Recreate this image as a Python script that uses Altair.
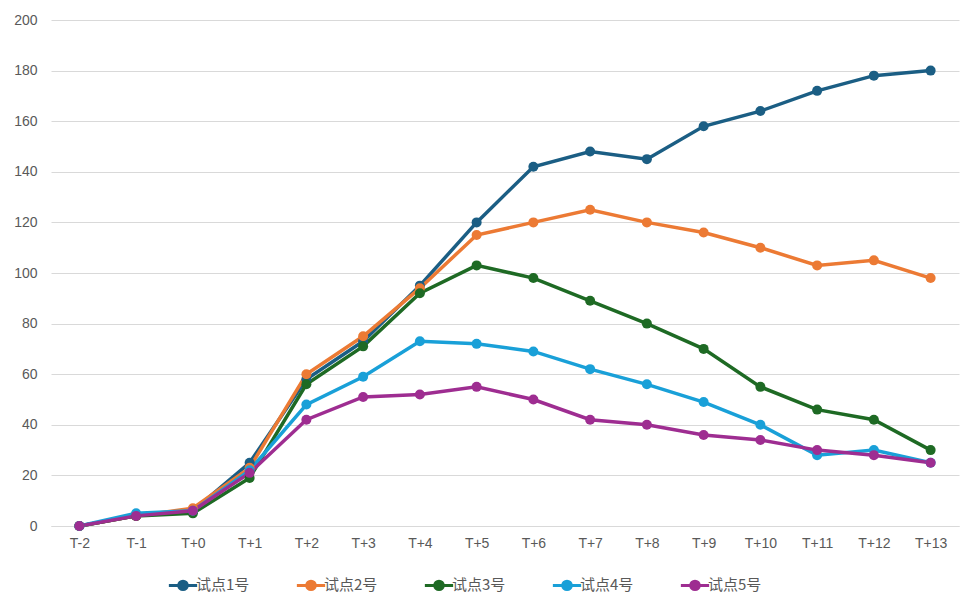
import altair as alt
import pandas as pd

periods = ["T-2", "T-1", "T+0", "T+1", "T+2", "T+3", "T+4", "T+5",
           "T+6", "T+7", "T+8", "T+9", "T+10", "T+11", "T+12", "T+13"]
names = ["试点1号", "试点2号", "试点3号", "试点4号", "试点5号"]
colors = ["#1b5e84", "#ec7a34", "#1e6a24", "#19a0d8", "#9e2d91"]

s1 = [0, 4, 6, 25, 58, 73, 95, 120, 142, 148, 145, 158, 164, 172, 178, 180]
s2 = [0, 4, 7, 23, 60, 75, 94, 115, 120, 125, 120, 116, 110, 103, 105, 98]
s3 = [0, 4, 5, 19, 56, 71, 92, 103, 98, 89, 80, 70, 55, 46, 42, 30]
s4 = [0, 5, 6, 22, 48, 59, 73, 72, 69, 62, 56, 49, 40, 28, 30, 25]
s5 = [0, 4, 6, 21, 42, 51, 52, 55, 50, 42, 40, 36, 34, 30, 28, 25]

rows = []
for name, vals in zip(names, [s1, s2, s3, s4, s5]):
    for p, v in zip(periods, vals):
        rows.append({"period": p, "value": v, "series": name})
df = pd.DataFrame(rows)

legend_symbol = "M-2,0H2M-0.6,0a0.6,0.6 0 1,0 1.2,0a0.6,0.6 0 1,0 -1.2,0Z"

chart = (
    alt.Chart(df)
    .mark_line(strokeWidth=3.5, point=alt.OverlayMarkDef(size=100, filled=True, opacity=1))
    .encode(
        x=alt.X("period:N", sort=periods, title=None,
                axis=alt.Axis(labelAngle=0, labelPadding=10, ticks=False,
                              domainColor="#d9d9d9", grid=False)),
        y=alt.Y("value:Q", title=None, scale=alt.Scale(domain=[0, 200]),
                axis=alt.Axis(values=list(range(0, 201, 20)), domain=False, ticks=False,
                              gridColor="#d9d9d9", labelPadding=14)),
        color=alt.Color("series:N", sort=names,
                        scale=alt.Scale(domain=names, range=colors),
                        legend=alt.Legend(title=None, orient="none", direction="horizontal",
                                          legendX=123, legendY=556,
                                          symbolType=legend_symbol, symbolSize=200,
                                          symbolStrokeWidth=3, symbolOpacity=1,
                                          labelFontSize=15, columnPadding=40)),
    )
    .properties(width=908, height=506)
    .configure_view(stroke=None)
    .configure_axis(labelFont="Liberation Sans", labelFontSize=14, labelColor="#595959")
    .configure_legend(labelFont="Noto Sans CJK SC", labelColor="#595959")
)

chart.save("out.html", embed_options={"renderer": "svg", "actions": False})
